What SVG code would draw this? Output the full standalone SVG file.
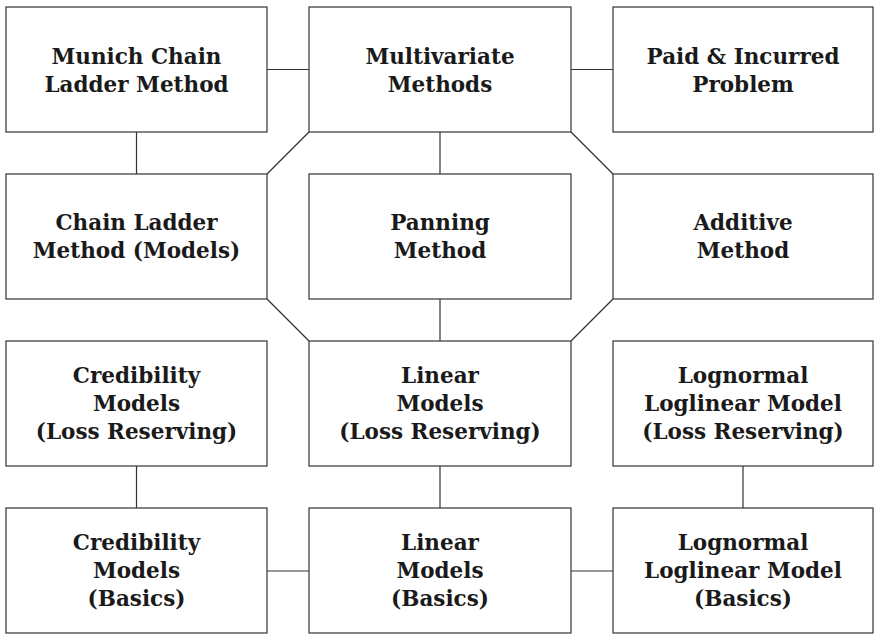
<svg xmlns="http://www.w3.org/2000/svg" width="874" height="634" viewBox="0 0 874 634">
<style>
.box{fill:#fff;stroke:#333;stroke-width:1.2}
.conn line{stroke:#333;stroke-width:1.2}
text{font-family:"DejaVu Serif","Liberation Serif",serif;font-weight:bold;font-size:21.5px;fill:#1a1a1a;text-anchor:middle}
</style>
<rect width="874" height="634" fill="#fff"/>
<g id="connectors" class="conn">
<line x1="267" y1="69.5" x2="309" y2="69.5"/>
<line x1="571" y1="69.5" x2="613" y2="69.5"/>
<line x1="136.5" y1="132" x2="136.5" y2="174"/>
<line x1="440" y1="132" x2="440" y2="174"/>
<line x1="309" y1="132" x2="267" y2="174"/>
<line x1="571" y1="132" x2="613" y2="174"/>
<line x1="267" y1="299" x2="309" y2="341"/>
<line x1="613" y1="299" x2="571" y2="341"/>
<line x1="440" y1="299" x2="440" y2="341"/>
<line x1="136.5" y1="466" x2="136.5" y2="508"/>
<line x1="440" y1="466" x2="440" y2="508"/>
<line x1="743" y1="466" x2="743" y2="508"/>
<line x1="267" y1="571" x2="309" y2="571"/>
<line x1="571" y1="571" x2="613" y2="571"/>
</g>
<g id="munich"><rect class="box" x="6" y="7" width="261" height="125"/><text x="136.5" y="64">Munich Chain</text><text x="136.5" y="92">Ladder Method</text></g>
<g id="multivariate"><rect class="box" x="309" y="7" width="262" height="125"/><text x="440" y="64">Multivariate</text><text x="440" y="92">Methods</text></g>
<g id="paid"><rect class="box" x="613" y="7" width="260" height="125"/><text x="743" y="64">Paid &amp; Incurred</text><text x="743" y="92">Problem</text></g>
<g id="chainladder"><rect class="box" x="6" y="174" width="261" height="125"/><text x="136.5" y="230">Chain Ladder</text><text x="136.5" y="258">Method (Models)</text></g>
<g id="panning"><rect class="box" x="309" y="174" width="262" height="125"/><text x="440" y="230">Panning</text><text x="440" y="258">Method</text></g>
<g id="additive"><rect class="box" x="613" y="174" width="260" height="125"/><text x="743" y="230">Additive</text><text x="743" y="258">Method</text></g>
<g id="credLR"><rect class="box" x="6" y="341" width="261" height="125"/><text x="136.5" y="383">Credibility</text><text x="136.5" y="411">Models</text><text x="136.5" y="439">(Loss Reserving)</text></g>
<g id="linLR"><rect class="box" x="309" y="341" width="262" height="125"/><text x="440" y="383">Linear</text><text x="440" y="411">Models</text><text x="440" y="439">(Loss Reserving)</text></g>
<g id="logLR"><rect class="box" x="613" y="341" width="260" height="125"/><text x="743" y="383">Lognormal</text><text x="743" y="411">Loglinear Model</text><text x="743" y="439">(Loss Reserving)</text></g>
<g id="credB"><rect class="box" x="6" y="508" width="261" height="125"/><text x="136.5" y="550">Credibility</text><text x="136.5" y="578">Models</text><text x="136.5" y="606">(Basics)</text></g>
<g id="linB"><rect class="box" x="309" y="508" width="262" height="125"/><text x="440" y="550">Linear</text><text x="440" y="578">Models</text><text x="440" y="606">(Basics)</text></g>
<g id="logB"><rect class="box" x="613" y="508" width="260" height="125"/><text x="743" y="550">Lognormal</text><text x="743" y="578">Loglinear Model</text><text x="743" y="606">(Basics)</text></g>
</svg>
